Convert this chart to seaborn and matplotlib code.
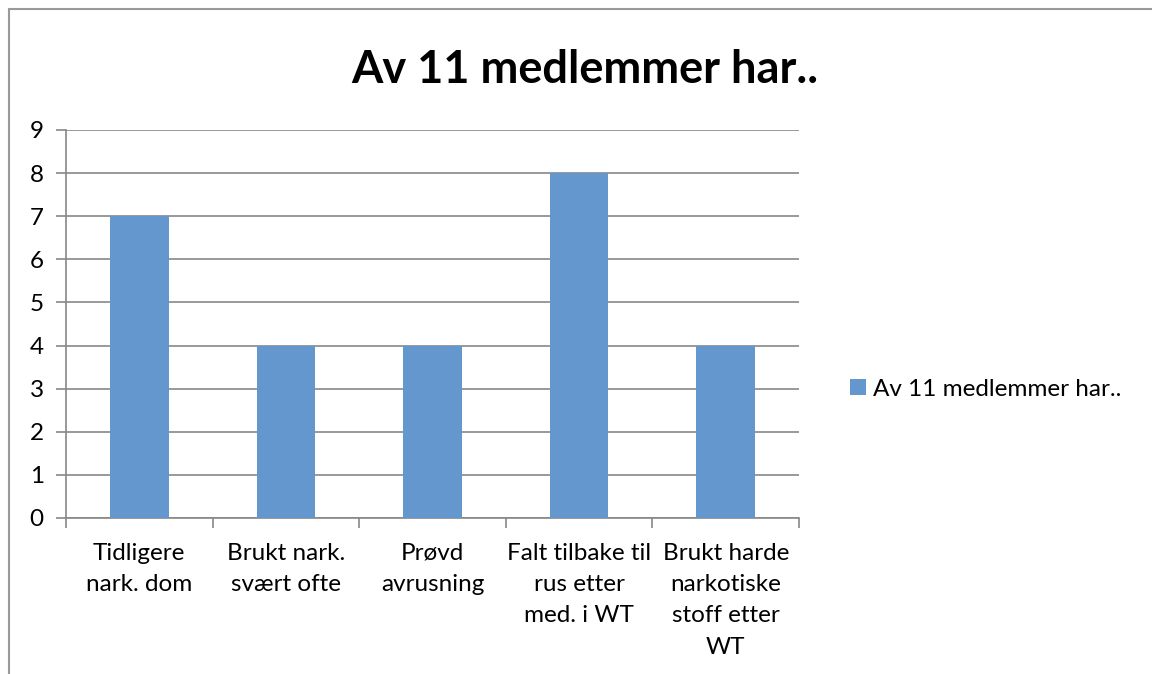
import matplotlib.pyplot as plt
import matplotlib.lines as mlines
import pandas as pd
import seaborn as sns

# Chart values
categories = [
    "Tidligere\nnark. dom",
    "Brukt nark.\nsvært ofte",
    "Prøvd\navrusning",
    "Falt tilbake til\nrus etter\nmed. i WT",
    "Brukt harde\nnarkotiske\nstoff etter\nWT",
]
counts = [7, 4, 4, 8, 4]
series_name = "Av 11 medlemmer har.."
y_ticks = list(range(0, 10))

df = pd.DataFrame({"kategori": categories, "antall": counts})

sns.set_style("white")
plt.rcParams["font.family"] = ["Lato", "DejaVu Sans"]
plt.rcParams["text.color"] = "black"
plt.rcParams["xtick.labelcolor"] = "black"
plt.rcParams["ytick.labelcolor"] = "black"

W, H = 1152, 674
fig = plt.figure(figsize=(W / 100, H / 100), dpi=100)
# axes placed in pixel coords: left 66, right 799, top 130, bottom 518
ax = fig.add_axes([66 / W, 1 - 518 / H, (799 - 66) / W, (518 - 130) / H])

sns.barplot(data=df, x="kategori", y="antall", color="#6497CD", saturation=1,
            width=0.4, linewidth=0, label=series_name, ax=ax, zorder=3)

grey = "#878787"
ax.set_ylim(0, 9)
ax.set_xlim(-0.5, len(categories) - 0.5)
ax.set_yticks(y_ticks)
ax.set_xlabel("")
ax.set_ylabel("")
ax.yaxis.grid(True, color=grey, linewidth=1.2, zorder=0)
ax.xaxis.grid(False)
for side in ["top", "right"]:
    ax.spines[side].set_visible(False)
for side in ["left", "bottom"]:
    ax.spines[side].set_color(grey)
    ax.spines[side].set_linewidth(1.2)

# x ticks at category boundaries, labels at centres
ax.set_xticks([i - 0.5 for i in range(len(categories) + 1)], minor=False)
ax.set_xticklabels([""] * (len(categories) + 1))
ax.set_xticks(range(len(categories)), minor=True)
ax.set_xticklabels(categories, minor=True, fontsize=17.5, linespacing=1.6)
ax.tick_params(axis="x", which="major", length=7, width=1.2, color=grey,
               direction="out", bottom=True)
ax.tick_params(axis="x", which="minor", length=0, pad=18)
ax.tick_params(axis="y", length=7, width=1.2, color=grey, direction="out",
               left=True, labelsize=17.5, pad=9)

fig.text(585 / W, 1 - 70 / H, series_name, ha="center", va="center",
         fontsize=32.5, fontweight="bold", color="black")

ax.legend(loc="center left", bbox_to_anchor=(828 / W, 1 - 389 / H),
          bbox_transform=fig.transFigure, frameon=False, fontsize=17.5,
          handlelength=0.65, handleheight=0.65, handletextpad=0.3)

# chart-area frame (top and left edges visible)
fig.add_artist(mlines.Line2D([8.5 / W, 8.5 / W], [0, 1 - 8.5 / H],
                             transform=fig.transFigure, color="#999999", lw=1.5))
fig.add_artist(mlines.Line2D([8.5 / W, 1], [1 - 8.5 / H, 1 - 8.5 / H],
                             transform=fig.transFigure, color="#999999", lw=1.5))

fig.savefig("out.png", dpi=100)
